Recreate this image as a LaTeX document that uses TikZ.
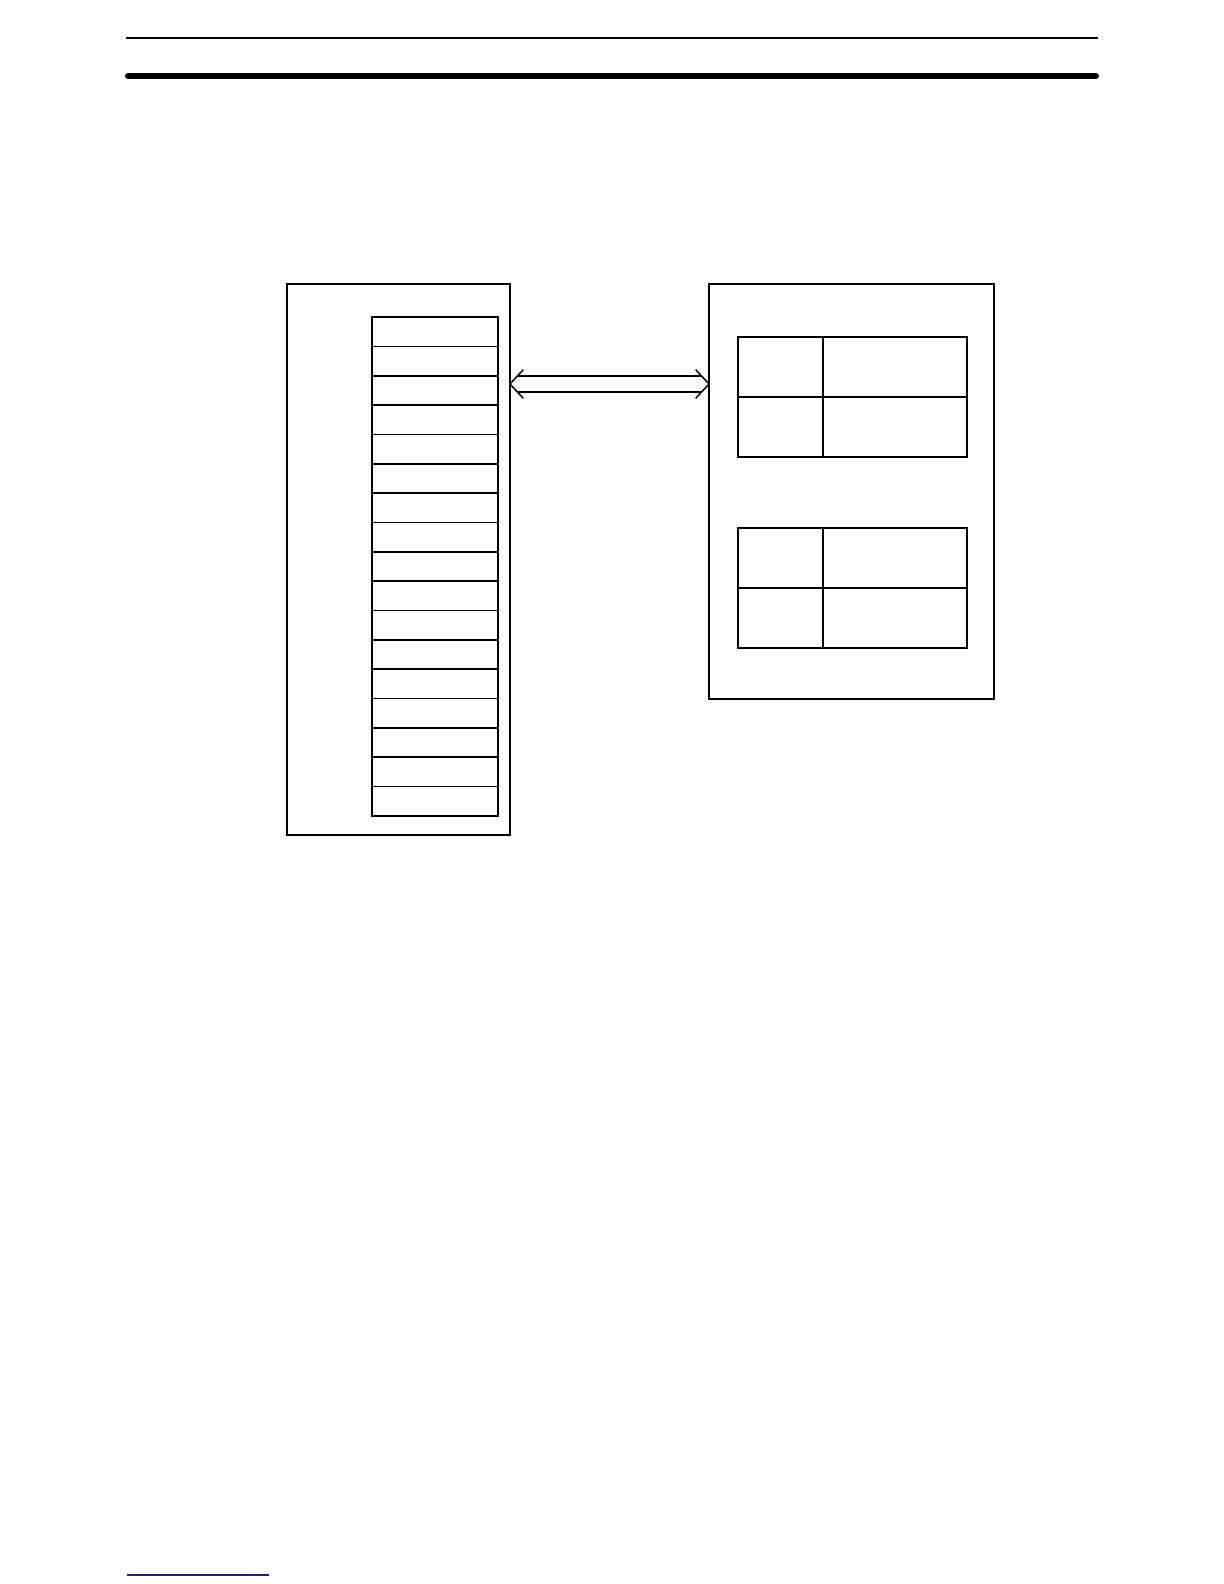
\documentclass[tikz,border=0pt]{standalone}
\usetikzlibrary{calc}
\definecolor{linkblue}{RGB}{30,30,140}
\begin{document}
\begin{tikzpicture}[x=0.5pt,y=-0.5pt,
  boxline/.style={draw=black, line width=0.85pt, inner sep=0pt, outer sep=0pt, anchor=north west},
  cellbox/.style={boxline, minimum width=63pt, minimum height=14.68pt},
  arrowline/.style={draw=black, line width=0.75pt, line cap=round, line join=miter}]
\useasboundingbox (0,0) rectangle (1224,1584);
\fill[white] (0,0) rectangle (1224,1584);
% header rules
\coordinate (h1a) at (126,37.7);
\coordinate (h1b) at (1098,37.7);
\draw[line width=1.1pt] (h1a) -- (h1b);
\coordinate (h2a) at (128,75.7);
\coordinate (h2b) at (1096,75.7);
\draw[line width=3pt, line cap=round] (h2a) -- (h2b);
% footer link line
\coordinate (f1a) at (127,1575);
\coordinate (f1b) at (269,1575);
\draw[linkblue, line width=0.6pt] (f1a) -- (f1b);
% left outer box
\node[boxline, minimum width=111.5pt, minimum height=275.5pt] (L) at (287,284) {};
% cells
\foreach \i in {1,...,17}{
  \node[cellbox] (c\i) at (372,{317+(\i-1)*29.35}) {};
}
% right outer box
\node[boxline, minimum width=142.5pt, minimum height=207.5pt] (R) at (709,284) {};
% table 1
\node[boxline, minimum width=42.5pt, minimum height=30pt] (t1a) at (738,337) {};
\node[boxline, minimum width=72pt, minimum height=30pt] (t1b) at (823,337) {};
\node[boxline, minimum width=42.5pt, minimum height=30pt] (t1c) at (738,397) {};
\node[boxline, minimum width=72pt, minimum height=30pt] (t1d) at (823,397) {};
% table 2
\node[boxline, minimum width=42.5pt, minimum height=30pt] (t2a) at (738,528) {};
\node[boxline, minimum width=72pt, minimum height=30pt] (t2b) at (823,528) {};
\node[boxline, minimum width=42.5pt, minimum height=30pt] (t2c) at (738,588) {};
\node[boxline, minimum width=72pt, minimum height=30pt] (t2d) at (823,588) {};
% double arrow between boxes
\coordinate (al) at (L.east |- 0,384);
\coordinate (ar) at (R.west |- 0,384);
\draw[arrowline] ($(al)+(13,-14)$) -- (al) -- ($(al)+(13,14)$);
\draw[arrowline] ($(ar)+(-13,-14)$) -- (ar) -- ($(ar)+(-13,14)$);
\draw[arrowline] ($(al)+(8,-8)$) -- ($(ar)+(-8,-8)$);
\draw[arrowline] ($(al)+(8,8)$) -- ($(ar)+(-8,8)$);
\end{tikzpicture}
\end{document}
